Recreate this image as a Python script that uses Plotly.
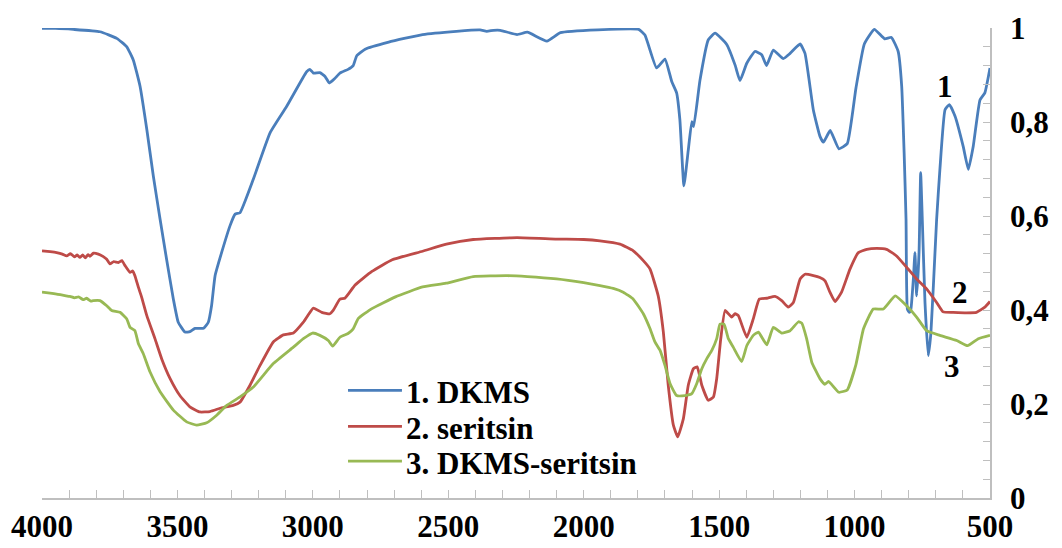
import plotly.graph_objects as go

# ---- data (wavenumber, cm-1 ; transmittance) ----
wn_dkms = [4000, 3950, 3884, 3786, 3724, 3687, 3663, 3638, 3613, 3589, 3564, 3540, 3515, 3497, 3472, 3454,
           3435, 3404, 3386, 3374, 3361, 3337, 3306, 3287, 3269, 3220, 3158, 3097, 3023, 3011, 2998, 2974,
           2955, 2939, 2920, 2900, 2870, 2851, 2838, 2807, 2720, 2595, 2470, 2383, 2358, 2333, 2308, 2246,
           2208, 2136, 2086, 1948, 1797, 1774, 1731, 1700, 1675, 1657, 1645, 1630, 1614, 1601, 1594, 1571,
           1540, 1515, 1472, 1441, 1423, 1398, 1368, 1343, 1325, 1300, 1263, 1238, 1201, 1183, 1152, 1128,
           1115, 1090, 1058, 1027, 995, 964, 927, 889, 864, 839, 826, 817, 810, 805, 798, 792, 783, 777,
           771, 762, 756, 750, 740, 728, 719, 709, 697, 685, 666, 650, 629, 599, 580, 562, 537, 519, 500]
t_dkms = [0.999, 0.999, 0.997, 0.992, 0.978, 0.960, 0.932, 0.876, 0.784, 0.685, 0.593, 0.508, 0.423, 0.374, 0.353, 0.354,
          0.361, 0.361, 0.374, 0.409, 0.473, 0.522, 0.579, 0.604, 0.607, 0.678, 0.777, 0.833, 0.907, 0.912, 0.904, 0.905,
          0.897, 0.883, 0.892, 0.904, 0.912, 0.920, 0.941, 0.955, 0.970, 0.986, 0.993, 0.996, 0.993, 0.995, 0.995, 0.986,
          0.991, 0.972, 0.990, 0.996, 0.997, 0.985, 0.915, 0.934, 0.886, 0.862, 0.805, 0.664, 0.740, 0.801, 0.790, 0.888,
          0.975, 0.989, 0.965, 0.921, 0.888, 0.925, 0.950, 0.943, 0.920, 0.953, 0.935, 0.946, 0.966, 0.946, 0.825, 0.770,
          0.757, 0.782, 0.743, 0.754, 0.872, 0.966, 0.997, 0.977, 0.980, 0.950, 0.876, 0.734, 0.593, 0.402, 0.395, 0.402,
          0.466, 0.522, 0.430, 0.522, 0.692, 0.593, 0.416, 0.303, 0.346, 0.452, 0.593, 0.699, 0.826, 0.837, 0.812, 0.748,
          0.699, 0.748, 0.847, 0.862, 0.915]

wn_ser = [4000, 3970, 3946, 3925, 3909, 3895, 3880, 3870, 3860, 3850, 3840, 3830, 3823, 3810, 3792, 3775, 3761,
          3749, 3735, 3718, 3705, 3694, 3675, 3665, 3657, 3644, 3632, 3613, 3583, 3558, 3527, 3491, 3454, 3417,
          3380, 3337, 3294, 3269, 3232, 3195, 3146, 3109, 3072, 3035, 2998, 2967, 2937, 2925, 2900, 2882, 2844,
          2782, 2707, 2595, 2507, 2408, 2246, 2100, 2000, 1940, 1866, 1817, 1780, 1755, 1725, 1706, 1688, 1669,
          1653, 1632, 1614, 1595, 1581, 1564, 1540, 1521, 1509, 1494, 1478, 1454, 1441, 1429, 1398, 1374, 1352,
          1324, 1294, 1269, 1245, 1226, 1201, 1183, 1152, 1128, 1109, 1091, 1072, 1048, 1017, 986, 955, 918,
          882, 845, 808, 771, 734, 697, 673, 636, 587, 550, 519, 500]
t_ser = [0.526, 0.524, 0.522, 0.519, 0.515, 0.520, 0.513, 0.517, 0.512, 0.517, 0.511, 0.518, 0.514, 0.521, 0.519, 0.514, 0.508,
         0.498, 0.503, 0.501, 0.505, 0.495, 0.480, 0.483, 0.473, 0.448, 0.427, 0.388, 0.339, 0.296, 0.254, 0.218, 0.194, 0.183,
         0.184, 0.192, 0.197, 0.204, 0.240, 0.282, 0.332, 0.347, 0.351, 0.374, 0.404, 0.395, 0.392, 0.399, 0.423, 0.425, 0.453,
         0.482, 0.507, 0.525, 0.540, 0.550, 0.554, 0.551, 0.550, 0.547, 0.540, 0.526, 0.505, 0.487, 0.430, 0.353, 0.240, 0.155,
         0.130, 0.169, 0.240, 0.275, 0.279, 0.240, 0.208, 0.215, 0.254, 0.339, 0.399, 0.385, 0.392, 0.388, 0.342, 0.381, 0.423,
         0.425, 0.429, 0.420, 0.406, 0.416, 0.466, 0.476, 0.473, 0.469, 0.462, 0.438, 0.418, 0.438, 0.487, 0.522, 0.529, 0.531,
         0.529, 0.515, 0.491, 0.466, 0.445, 0.416, 0.396, 0.395, 0.394, 0.395, 0.406, 0.418]

wn_mix = [4000, 3970, 3946, 3920, 3897, 3880, 3865, 3848, 3835, 3820, 3811, 3786, 3761, 3743, 3712, 3687, 3675,
          3657, 3644, 3626, 3601, 3564, 3515, 3466, 3429, 3392, 3355, 3318, 3269, 3220, 3146, 3072, 3035, 3001,
          2974, 2943, 2927, 2900, 2870, 2851, 2832, 2782, 2695, 2595, 2508, 2408, 2283, 2208, 2100, 2000, 1940,
          1891, 1854, 1817, 1780, 1755, 1737, 1718, 1700, 1681, 1657, 1626, 1601, 1583, 1564, 1546, 1527, 1509,
          1497, 1482, 1466, 1448, 1417, 1398, 1374, 1355, 1324, 1300, 1269, 1238, 1207, 1195, 1177, 1158, 1128,
          1110, 1096, 1058, 1027, 995, 967, 931, 894, 850, 808, 771, 734, 685, 623, 583, 543, 500]
t_mix = [0.438, 0.436, 0.434, 0.431, 0.429, 0.426, 0.428, 0.422, 0.425, 0.419, 0.420, 0.420, 0.409, 0.399, 0.395, 0.381, 0.363,
         0.356, 0.328, 0.307, 0.268, 0.226, 0.187, 0.162, 0.155, 0.160, 0.176, 0.197, 0.215, 0.236, 0.286, 0.321, 0.339, 0.351,
         0.346, 0.335, 0.323, 0.342, 0.350, 0.360, 0.382, 0.403, 0.428, 0.449, 0.457, 0.471, 0.473, 0.471, 0.466, 0.458, 0.452,
         0.446, 0.438, 0.423, 0.392, 0.360, 0.332, 0.314, 0.282, 0.243, 0.218, 0.218, 0.222, 0.243, 0.275, 0.296, 0.314, 0.339,
         0.370, 0.370, 0.339, 0.321, 0.290, 0.324, 0.346, 0.353, 0.326, 0.363, 0.351, 0.356, 0.375, 0.372, 0.339, 0.289, 0.254,
         0.242, 0.248, 0.225, 0.230, 0.284, 0.360, 0.402, 0.402, 0.430, 0.409, 0.385, 0.356, 0.346, 0.335, 0.324, 0.339, 0.346]

series_names = ["1. DKMS", "2. seritsin", "3. DKMS-seritsin"]
series_colors = ["#4A7EBB", "#BE4B48", "#98B954"]

x_tickvals = [4000, 3500, 3000, 2500, 2000, 1500, 1000, 500]
x_ticktext = ["4000", "3500", "3000", "2500", "2000", "1500", "1000", "500"]
y_tickvals = [0, 0.2, 0.4, 0.6, 0.8, 1.0]
y_ticktext = ["0", "0,2", "0,4", "0,6", "0,8", "1"]

curve_labels = ["1", "2", "3"]
curve_label_pos = [(666, 0.876), (611, 0.438), (639, 0.280)]

FONT = "Liberation Serif, Times New Roman, serif"
GRID = "#BFBFBF"
BOLD = dict(family=FONT, size=31, color="black", weight="bold")

fig = go.Figure()
for wn, t, name, col in zip([wn_dkms, wn_ser, wn_mix], [t_dkms, t_ser, t_mix], series_names, series_colors):
    fig.add_trace(go.Scatter(x=wn, y=t, mode="lines", name=name, showlegend=False,
                             line=dict(color=col, width=2.8, shape="spline", smoothing=0.4)))

for lab, (xv, yv) in zip(curve_labels, curve_label_pos):
    fig.add_annotation(x=xv, y=yv, xref="x", yref="y", text=lab, showarrow=False, font=BOLD)

# legend drawn inside the plot area (paper coordinates)
legend_rows_y = [0.2288, 0.1525, 0.0784]
for name, col, ly in zip(series_names, series_colors, legend_rows_y):
    fig.add_shape(type="line", xref="paper", yref="paper", x0=0.3228, x1=0.3797, y0=ly, y1=ly,
                  line=dict(color=col, width=2.8))
    fig.add_annotation(x=0.382, y=ly, xref="paper", yref="paper", text=name, showarrow=False,
                       xanchor="left", yanchor="middle", font=BOLD, yshift=-2)

fig.update_layout(
    width=1062, height=548,
    margin=dict(l=42, r=72, t=28, b=50),
    paper_bgcolor="white", plot_bgcolor="white",
    font=BOLD,
    showlegend=False,
    xaxis=dict(range=[4000, 500], showgrid=False, zeroline=False, automargin=False,
               showline=True, linecolor=GRID, linewidth=1.5,
               ticks="inside", ticklen=8, tickcolor=GRID, tickwidth=1.3,
               tickvals=x_tickvals, ticktext=x_ticktext, ticklabelstandoff=0,
               tickfont=BOLD,
               minor=dict(dtick=100, tick0=0, ticks="inside", ticklen=8, tickcolor=GRID, tickwidth=1.3, showgrid=False)),
    yaxis=dict(range=[0, 1], side="right", showgrid=False, zeroline=False, automargin=False,
               showline=True, linecolor=GRID, linewidth=1.5,
               ticks="inside", ticklen=7, tickcolor=GRID, tickwidth=1.3,
               tickvals=y_tickvals, ticktext=y_ticktext, ticklabelstandoff=12,
               tickfont=BOLD,
               minor=dict(dtick=0.04, tick0=0, ticks="inside", ticklen=7, tickcolor=GRID, tickwidth=1.3, showgrid=False)),
)

fig.write_html("out.html")
